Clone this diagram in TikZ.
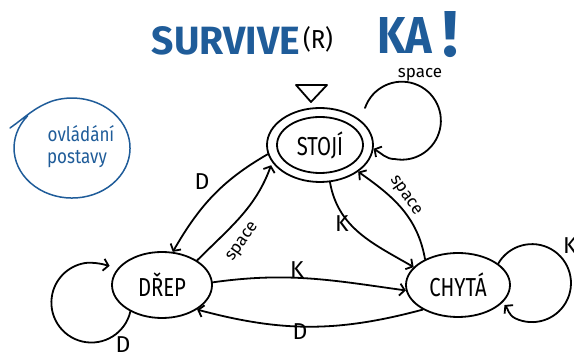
\documentclass[tikz,border=0pt]{standalone}
\usepackage{graphicx}
\usepackage{fontspec}
\setmainfont{Fira Sans}
\usetikzlibrary{shapes.geometric,arrows.meta}
\definecolor{penblue}{RGB}{31,92,153}
\begin{document}
\begin{tikzpicture}[x=1pt,y=1pt,
  pen/.style={line width=1.8pt, line cap=round, line join=round},
  state/.style={pen, draw, ellipse, inner sep=0pt, font=\fontsize{26}{28}\selectfont},
  arr/.style={pen, -{Straight Barb[length=5pt,width=12pt]}},
  lbl/.style={font=\fontsize{23}{25}\selectfont, inner sep=0pt},
  small/.style={font=\fontsize{17}{19}\selectfont, inner sep=0pt},
  note/.style={text=penblue, font=\fontsize{20}{22}\selectfont, inner sep=0pt},
]
\useasboundingbox (0,0) rectangle (574,353);

% title
\node[text=penblue, font=\bfseries, inner sep=0pt] (title) at (226,312) {\resizebox{148pt}{28pt}{SURVIVE}};
\node[inner sep=0pt] (reg) at (318,314) {\resizebox{30pt}{22pt}{(R)}};
\node[text=penblue, font=\bfseries, inner sep=0pt] (ka) at (405,317) {\resizebox{55pt}{36pt}{KA}};
\node[text=penblue, font=\bfseries, inner sep=0pt] (bang) at (451,318) {\resizebox{16pt}{45pt}{!}};

% controls note
\draw[line width=1.5pt, line cap=round, draw=penblue] (27.6,237.1) arc[start angle=140, end angle=470, x radius=58, y radius=50]
  to[out=200,in=35] (10,225);
\node[note] (ovl) at (81,219) {\scalebox{0.85}[1]{ovládání}};
\node[note] (post) at (77,194) {\scalebox{0.85}[1]{postavy}};

% states
\node[state, minimum width=106pt, minimum height=74pt] (stoji) at (320,208) {};
\node[state, minimum width=86pt, minimum height=56pt] (stojiin) at (320,208) {\scalebox{0.78}[1]{STOJÍ}};
\node[state, minimum width=100pt, minimum height=66pt] (drep) at (162,68) {\scalebox{0.78}[1]{DŘEP}};
\node[state, minimum width=104pt, minimum height=64pt] (chyta) at (458,68) {\scalebox{0.78}[1]{CHYTÁ}};

% start marker
\draw[pen] (296,268) -- (327,268) -- (311,251) -- cycle;

% transitions
\draw[arr] (stoji.190) to[out=210,in=60] (drep.72);
\draw[arr, shorten >=3pt] (drep.35) to[out=45,in=-110] (stoji.200);
\draw[arr] (stoji.-75) to[out=-80,in=150] (chyta.158);
\draw[arr] (chyta.142) to[out=100,in=-35] (stoji.-35);
\draw[arr] (drep.3) to[out=8,in=172] (chyta.186);
\draw[arr] (chyta.215) to[out=195,in=-15] (drep.-35);

% self loops
\coordinate (sloop) at (365,245);
\draw[arr] (sloop) arc[start angle=161, end angle=-100, radius=39] to[out=180,in=-30] (stoji.-4);
\draw[arr, shorten >=9pt] (drep.-140) arc[start angle=-13, end angle=-265, radius=40] to[out=0,in=170] (drep.158);
\draw[arr, shorten >=3pt] (chyta.28) arc[start angle=150, end angle=-115, radius=39] to[out=155,in=-45] (chyta.-22);

% labels
\node[small] (lsp0) at (420,278) {space};
\node[lbl] (lD1) at (202,171) {D};
\node[small, rotate=55] (lsp1) at (243,111) {space};
\node[lbl] (lK1) at (342,129) {K};
\node[small, rotate=-55] (lsp2) at (405,157) {space};
\node[lbl] (lK2) at (297,83) {K};
\node[lbl] (lD2) at (300,21) {D};
\node[lbl] (lD3) at (123,8) {D};
\node[lbl] (lK3) at (570,107) {K};
\end{tikzpicture}
\end{document}
